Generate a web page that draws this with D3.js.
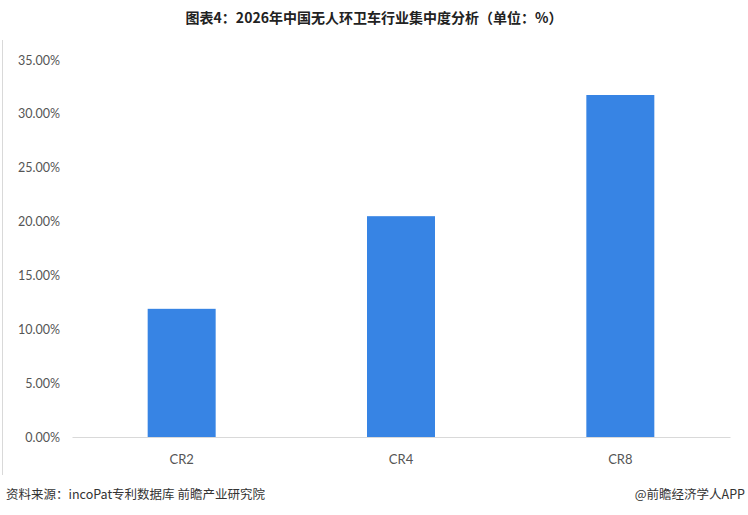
<!DOCTYPE html>
<html><head><meta charset="utf-8">
<script src="https://cdn.jsdelivr.net/npm/d3@7"></script>
<style>body{margin:0;background:#fff;font-family:"Noto Sans CJK SC","Microsoft YaHei",sans-serif}</style>
</head><body>
<svg id="chart" width="748" height="515"></svg>
<script>
var categories = ['CR2', 'CR4', 'CR8']
var values = [11.9, 20.5, 31.75]
var ticks = [0, 5, 10, 15, 20, 25, 30, 35]

var svg = d3.select('#chart')
var margin = {left: 72, right: 730, top: 60, bottom: 437}

var x = d3.scaleBand().domain(categories).range([margin.left, margin.right]).paddingInner(0.69).paddingOuter(0.345)
var y = d3.scaleLinear().domain([0, 35]).range([margin.bottom, margin.top])

svg.append('text').attr('x', 374).attr('y', 23).attr('text-anchor', 'middle')
  .style('font-size', '14px').style('font-weight', 'bold').attr('fill', '#222')
  .text('图表4：2026年中国无人环卫车行业集中度分析（单位：%）')

// left frame line
svg.append('line').attr('x1', 2.5).attr('x2', 2.5).attr('y1', 40).attr('y2', 475)
  .attr('stroke', '#d9d9d9')

var yAxis = d3.axisLeft(y).tickValues(ticks).tickSize(0).tickPadding(12)
  .tickFormat(function(d) { return d.toFixed(2) + '%' })
var gy = svg.append('g').attr('transform', 'translate(' + margin.left + ',0)').call(yAxis)
gy.select('.domain').remove()
gy.selectAll('text').style('font-size', '12.5px').attr('fill', '#555').style('font-family', 'Lato, sans-serif')

svg.selectAll('rect.bar').data(values).enter().append('rect')
  .attr('class', 'bar')
  .attr('x', function(d, i) { return x(categories[i]) })
  .attr('width', x.bandwidth())
  .attr('y', function(d) { return y(d) })
  .attr('height', function(d) { return y(0) - y(d) })
  .attr('fill', '#3784e4')

var xAxis = d3.axisBottom(x).tickSize(0).tickPadding(18)
var gx = svg.append('g').attr('transform', 'translate(0,' + margin.bottom + ')').call(xAxis)
gx.select('.domain').attr('stroke', '#d9d9d9')
gx.selectAll('text').style('font-size', '13px').attr('fill', '#555').style('font-family', 'Lato, sans-serif')

svg.append('text').attr('x', 6).attr('y', 499).style('font-size', '12.5px').attr('fill', '#333')
  .text('资料来源：incoPat专利数据库  前瞻产业研究院')
svg.append('text').attr('x', 745).attr('y', 499).attr('text-anchor', 'end').style('font-size', '12.5px').attr('fill', '#333')
  .text('@前瞻经济学人APP')
</script>
</body></html>
